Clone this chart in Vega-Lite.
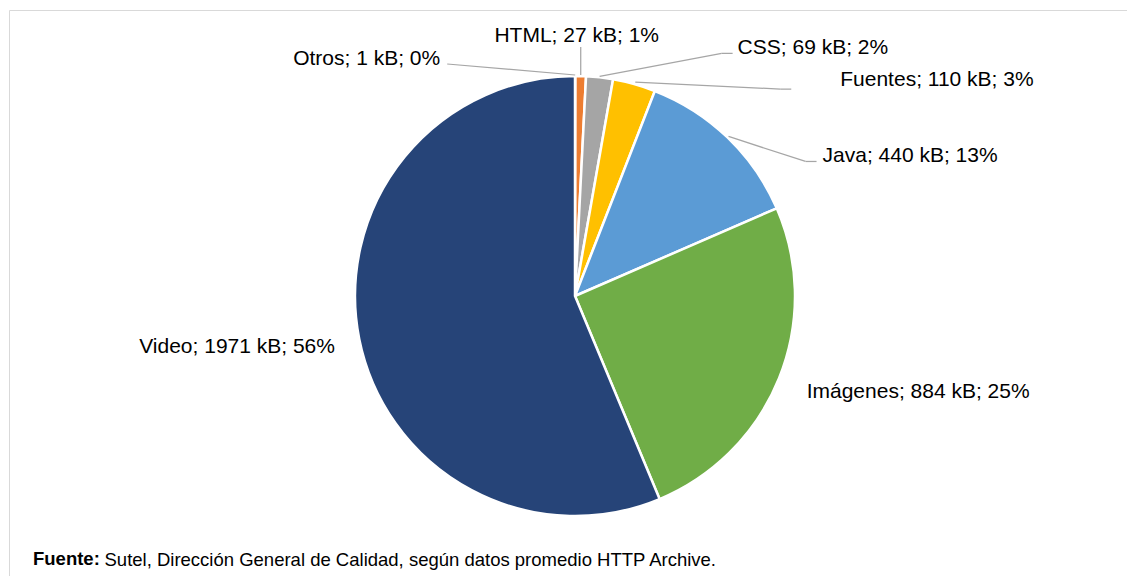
{
  "$schema": "https://vega.github.io/schema/vega-lite/v6.json",
  "width": 1118,
  "height": 566,
  "padding": {"left": 9, "top": 10, "right": 0, "bottom": 0},
  "autosize": {"type": "none"},
  "background": "white",
  "config": {
    "view": {"stroke": "#d9d9d9", "strokeWidth": 1},
    "text": {"font": "Liberation Sans", "fontSize": 21, "color": "#000000", "baseline": "alphabetic"},
    "rule": {"color": "#a6a6a6", "strokeWidth": 1.25}
  },
  "title": {
    "text": "Fuente:",
    "orient": "bottom",
    "anchor": "start",
    "frame": "group",
    "offset": -11,
    "dx": 24,
    "baseline": "alphabetic",
    "font": "Liberation Sans",
    "fontSize": 18.5,
    "fontWeight": "bold",
    "color": "#000000"
  },
  "data": {
    "values": [
      {"idx": 1, "label": "Otros", "kB": 1},
      {"idx": 2, "label": "HTML", "kB": 27},
      {"idx": 3, "label": "CSS", "kB": 69},
      {"idx": 4, "label": "Fuentes", "kB": 110},
      {"idx": 5, "label": "Java", "kB": 440},
      {"idx": 6, "label": "Imágenes", "kB": 884},
      {"idx": 7, "label": "Video", "kB": 1971}
    ]
  },
  "transform": [
    {"window": [{"op": "sum", "field": "kB", "as": "cum"}], "sort": [{"field": "idx"}], "frame": [null, 0]},
    {"joinaggregate": [{"op": "sum", "field": "kB", "as": "total"}]},
    {"calculate": "2*PI*(datum.cum - datum.kB/2)/datum.total", "as": "mid"},
    {"calculate": "220*sin(datum.mid)", "as": "ex"},
    {"calculate": "220*cos(datum.mid)", "as": "ey"},
    {"calculate": "datum.label + '; ' + datum.kB + ' kB; ' + round(100*datum.kB/datum.total) + '%'", "as": "text"}
  ],
  "encoding": {
    "x": {
      "field": "ex", "type": "quantitative",
      "scale": {"domain": [-566, 552], "nice": false, "zero": false},
      "axis": {
        "title": "Sutel, Dirección General de Calidad, según datos promedio HTTP Archive.",
        "domain": false, "ticks": false, "labels": false, "grid": false,
        "titleX": 95, "titleY": -11, "titleAnchor": "start", "titleAlign": "left", "titleBaseline": "alphabetic",
        "titleFont": "Liberation Sans", "titleFontSize": 18.5, "titleFontWeight": "normal", "titleColor": "#000000"
      }
    },
    "y": {"field": "ey", "type": "quantitative", "scale": {"domain": [-280, 286], "nice": false, "zero": false}, "axis": null}
  },
  "layer": [
    {
      "mark": {"type": "arc", "outerRadius": 220, "stroke": "white", "strokeWidth": 2.5},
      "encoding": {
        "x": {"datum": 0, "type": "quantitative"},
        "y": {"datum": 0, "type": "quantitative"},
        "theta": {"field": "kB", "type": "quantitative", "stack": true},
        "order": {"field": "idx", "type": "quantitative"},
        "color": {
          "field": "label",
          "type": "nominal",
          "scale": {
            "domain": ["Otros", "HTML", "CSS", "Fuentes", "Java", "Imágenes", "Video"],
            "range": ["#4472C4", "#ED7D31", "#A5A5A5", "#FFC000", "#5B9BD5", "#70AD47", "#264478"]
          },
          "legend": null
        }
      }
    },
    {
      "transform": [{"filter": "datum.label === 'Otros'"}],
      "mark": {"type": "rule", "yOffset": -1, "x2Offset": -128, "y2Offset": -12},
      "encoding": {"x2": {"field": "ex"}, "y2": {"field": "ey"}}
    },
    {
      "transform": [{"filter": "datum.label === 'HTML'"}],
      "mark": {"type": "rule", "yOffset": -1, "x2Offset": 0, "y2Offset": -29},
      "encoding": {"x2": {"field": "ex"}, "y2": {"field": "ey"}}
    },
    {
      "transform": [{"filter": "datum.label === 'CSS'"}],
      "mark": {"type": "rule", "yOffset": -1, "x2Offset": 122, "y2Offset": -24},
      "encoding": {"x2": {"field": "ex"}, "y2": {"field": "ey"}}
    },
    {
      "transform": [{"filter": "datum.label === 'CSS'"}],
      "mark": {"type": "rule", "xOffset": 122, "yOffset": -24, "x2Offset": 133, "y2Offset": -24},
      "encoding": {"x2": {"field": "ex"}, "y2": {"field": "ey"}}
    },
    {
      "transform": [{"filter": "datum.label === 'Fuentes'"}],
      "mark": {"type": "rule", "xOffset": 1, "yOffset": -2, "x2Offset": 146, "y2Offset": 5},
      "encoding": {"x2": {"field": "ex"}, "y2": {"field": "ey"}}
    },
    {
      "transform": [{"filter": "datum.label === 'Fuentes'"}],
      "mark": {"type": "rule", "xOffset": 146, "yOffset": 5, "x2Offset": 157, "y2Offset": 5},
      "encoding": {"x2": {"field": "ex"}, "y2": {"field": "ey"}}
    },
    {
      "transform": [{"filter": "datum.label === 'Java'"}],
      "mark": {"type": "rule", "xOffset": 1, "yOffset": -1, "x2Offset": 78, "y2Offset": 24},
      "encoding": {"x2": {"field": "ex"}, "y2": {"field": "ey"}}
    },
    {
      "transform": [{"filter": "datum.label === 'Java'"}],
      "mark": {"type": "rule", "xOffset": 78, "yOffset": 24, "x2Offset": 89, "y2Offset": 24},
      "encoding": {"x2": {"field": "ex"}, "y2": {"field": "ey"}}
    },
    {
      "transform": [{"filter": "datum.label === 'Otros'"}],
      "mark": {"type": "text", "align": "right", "dx": -135, "dy": -11},
      "encoding": {"text": {"field": "text"}}
    },
    {
      "transform": [{"filter": "datum.label === 'HTML'"}],
      "mark": {"type": "text", "align": "center", "dx": -4, "dy": -34},
      "encoding": {"text": {"field": "text"}}
    },
    {
      "transform": [{"filter": "datum.label === 'CSS'"}],
      "mark": {"type": "text", "align": "left", "dx": 138, "dy": -23},
      "encoding": {"text": {"field": "text"}}
    },
    {
      "transform": [{"filter": "datum.label === 'Fuentes'"}],
      "mark": {"type": "text", "align": "left", "dx": 206, "dy": 2},
      "encoding": {"text": {"field": "text"}}
    },
    {
      "transform": [{"filter": "datum.label === 'Java'"}],
      "mark": {"type": "text", "align": "left", "dx": 95, "dy": 24.5},
      "encoding": {"text": {"field": "text"}}
    },
    {
      "transform": [{"filter": "datum.label === 'Imágenes'"}],
      "mark": {"type": "text", "align": "left", "dx": 27.6, "dy": 20},
      "encoding": {"text": {"field": "text"}}
    },
    {
      "transform": [{"filter": "datum.label === 'Video'"}],
      "mark": {"type": "text", "align": "right", "dx": -24.3, "dy": 14.2},
      "encoding": {"text": {"field": "text"}}
    }
  ]
}
